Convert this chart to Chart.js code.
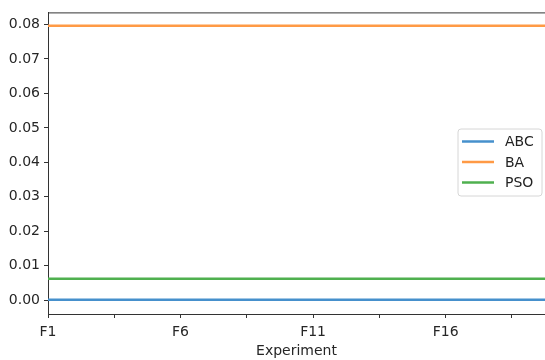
<!DOCTYPE html>
<html>
<head>
<meta charset="utf-8">
<script src="https://cdn.jsdelivr.net/npm/chart.js@4/dist/chart.umd.min.js"></script>
<style>
  html, body { margin: 0; padding: 0; background: #fff; }
  #wrap { width: 545px; height: 360px; }
</style>
</head>
<body>
<div id="wrap"><canvas id="expChart" width="545" height="360"></canvas></div>
<script>
var experiments = ['F1','F2','F3','F4','F5','F6','F7','F8','F9','F10',
                   'F11','F12','F13','F14','F15','F16','F17','F18','F19','F20'];
var abcValues = [0.0001,0.0001,0.0001,0.0001,0.0001,0.0001,0.0001,0.0001,0.0001,0.0001,
                 0.0001,0.0001,0.0001,0.0001,0.0001,0.0001,0.0001,0.0001,0.0001,0.0001];
var baValues  = [0.0796,0.0796,0.0796,0.0796,0.0796,0.0796,0.0796,0.0796,0.0796,0.0796,
                 0.0796,0.0796,0.0796,0.0796,0.0796,0.0796,0.0796,0.0796,0.0796,0.0796];
var psoValues = [0.0062,0.0062,0.0062,0.0062,0.0062,0.0062,0.0062,0.0062,0.0062,0.0062,
                 0.0062,0.0062,0.0062,0.0062,0.0062,0.0062,0.0062,0.0062,0.0062,0.0062];
var yTicks = [0, 0.01, 0.02, 0.03, 0.04, 0.05, 0.06, 0.07, 0.08];
var xTicks = [0, 2.5, 5, 7.5, 10, 12.5, 15, 17.5];

function toPoints(vals) {
    return vals.map(function (v, i) { return {x: i, y: v}; });
}

var tickFont = {family: 'DejaVu Sans', size: 14};

// top spine + matplotlib style legend box
var extras = {
    id: 'extras',
    afterDraw: function (chart) {
        var ctx = chart.ctx, a = chart.chartArea;
        ctx.save();
        ctx.strokeStyle = '#333';
        ctx.lineWidth = 1;
        ctx.beginPath();
        ctx.moveTo(a.left, a.top + 0.5);
        ctx.lineTo(a.right, a.top + 0.5);
        ctx.stroke();

        var bx = 458, by = 129, bw = 84, bh = 67, r = 3;
        ctx.fillStyle = 'rgba(255,255,255,0.8)';
        ctx.strokeStyle = '#d6d6d6';
        ctx.beginPath();
        ctx.moveTo(bx + r, by);
        ctx.arcTo(bx + bw, by, bx + bw, by + bh, r);
        ctx.arcTo(bx + bw, by + bh, bx, by + bh, r);
        ctx.arcTo(bx, by + bh, bx, by, r);
        ctx.arcTo(bx, by, bx + bw, by, r);
        ctx.closePath();
        ctx.fill();
        ctx.stroke();

        ctx.font = '14px "DejaVu Sans"';
        ctx.textBaseline = 'middle';
        chart.data.datasets.forEach(function (ds, i) {
            var y = 141.5 + i * 20.5;
            ctx.strokeStyle = ds.borderColor;
            ctx.lineWidth = 2.5;
            ctx.beginPath();
            ctx.moveTo(462, y);
            ctx.lineTo(494, y);
            ctx.stroke();
            ctx.fillStyle = '#222';
            ctx.fillText(ds.label, 505, y + 1);
        });
        ctx.restore();
    }
};

var expChart = new Chart(document.getElementById('expChart'), {
    type: 'line',
    data: {
        datasets: [
            {label: 'ABC', data: toPoints(abcValues), borderColor: '#4690cc'},
            {label: 'BA',  data: toPoints(baValues),  borderColor: '#ff9a45'},
            {label: 'PSO', data: toPoints(psoValues), borderColor: '#4fb04f'}
        ]
    },
    options: {
        responsive: false,
        animation: false,
        layout: {padding: {top: 11, right: 0, left: 0, bottom: 0}},
        elements: {
            line: {borderWidth: 2.5, tension: 0},
            point: {radius: 0}
        },
        scales: {
            x: {
                type: 'linear',
                min: 0,
                max: 18.75,
                afterBuildTicks: function (axis) {
                    axis.ticks = xTicks.map(function (v) { return {value: v}; });
                },
                afterFit: function (axis) { axis.height = 46; },
                ticks: {
                    autoSkip: false,
                    maxRotation: 0,
                    padding: 6,
                    color: '#262626',
                    font: tickFont,
                    callback: function (v) {
                        return Number.isInteger(v) ? experiments[v] : '';
                    }
                },
                grid: {drawOnChartArea: false, drawTicks: true, tickLength: 4, color: '#333'},
                border: {display: true, color: '#333', width: 1},
                title: {
                    display: true,
                    text: 'Experiment',
                    color: '#262626',
                    font: tickFont,
                    padding: {top: 0, bottom: 0}
                }
            },
            y: {
                min: -0.004,
                max: 0.0835,
                afterBuildTicks: function (axis) {
                    axis.ticks = yTicks.map(function (v) { return {value: v}; });
                },
                afterFit: function (axis) { axis.width = 48; },
                ticks: {
                    padding: 4,
                    color: '#262626',
                    font: tickFont,
                    callback: function (v) { return v.toFixed(2); }
                },
                grid: {drawOnChartArea: false, drawTicks: true, tickLength: 4, color: '#333'},
                border: {display: true, color: '#333', width: 1}
            }
        },
        plugins: {
            legend: {display: false},
            tooltip: {enabled: false}
        }
    },
    plugins: [extras]
});
</script>
</body>
</html>
